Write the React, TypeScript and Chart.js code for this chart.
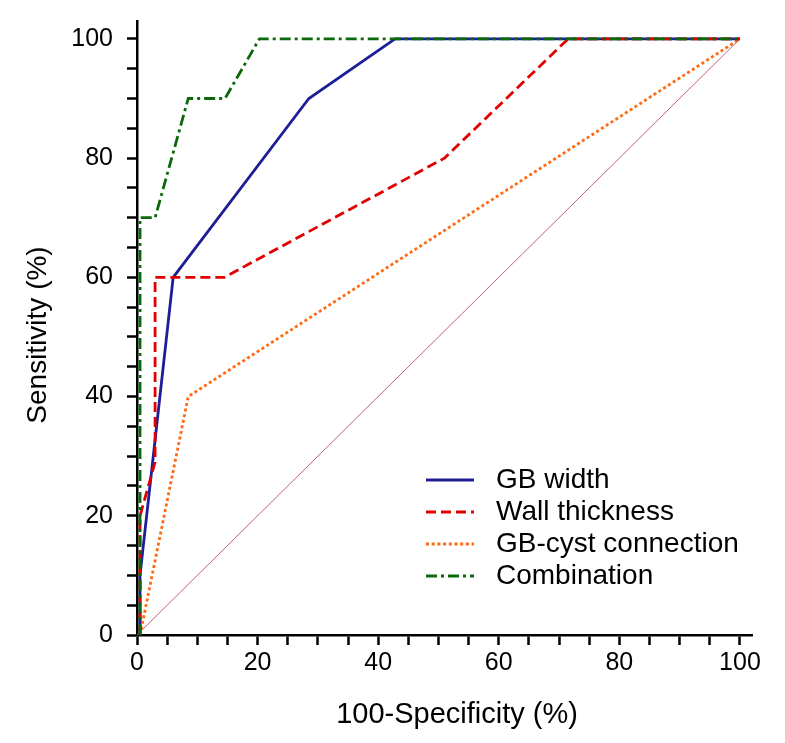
import React, { useEffect, useRef } from "react";
import Chart from "chart.js/auto";

// ---- data ----
const seriesNames = ["GB width", "Wall thickness", "GB-cyst connection", "Combination"];
const gbWidthX = [0.5, 0.5, 6, 28.5, 42.8, 100];
const gbWidthY = [0, 10, 60, 90, 100, 100];
const wallX = [0.5, 0.5, 3, 3, 14.5, 51, 71.5, 100];
const wallY = [0, 20, 29, 60, 60, 80, 100, 100];
const cystX = [0.5, 8.5, 100];
const cystY = [0, 40, 100];
const comboX = [0.5, 0.5, 3, 8.5, 14.6, 20.3, 100];
const comboY = [0, 70, 70, 90, 90, 100, 100];
const diagX = [0, 100];
const diagY = [0, 100];
const tickLabels = [0, 20, 40, 60, 80, 100];
const xTitle = "100-Specificity (%)";
const yTitle = "Sensitivity (%)";

const colors = ["#1e1e96", "#e00000", "#ff6a13", "#0b690b"];
const dashes: number[][] = [[], [10, 5], [3, 2.7], [11, 4, 3, 4]];

const pts = (xs: number[], ys: number[]) => xs.map((x, i) => ({ x, y: ys[i] }));

const FONT = "'Liberation Sans', Arial, Helvetica, sans-serif";

const overlayPlugin = {
  id: "overlay",
  afterDraw(chart: any) {
    const ctx = chart.ctx;
    const rowsY = [480, 512, 544, 576];
    ctx.save();
    seriesNames.forEach((name, i) => {
      const y = rowsY[i];
      ctx.beginPath();
      ctx.setLineDash(dashes[i]);
      ctx.lineWidth = 2.8;
      ctx.strokeStyle = colors[i];
      ctx.moveTo(426, y);
      ctx.lineTo(474, y);
      ctx.stroke();
      ctx.setLineDash([]);
      ctx.fillStyle = "#000";
      ctx.font = `28px ${FONT}`;
      ctx.textAlign = "left";
      ctx.textBaseline = "middle";
      ctx.fillText(name, 496, y);
    });
    // axis titles
    ctx.fillStyle = "#000";
    ctx.textAlign = "center";
    ctx.textBaseline = "middle";
    ctx.font = `29px ${FONT}`;
    ctx.fillText(xTitle, 457, 715);
    ctx.translate(38, 335);
    ctx.rotate(-Math.PI / 2);
    ctx.font = `28px ${FONT}`;
    ctx.fillText(yTitle, 0, 0);
    ctx.restore();
  },
};

export default function App() {
  const ref = useRef<HTMLCanvasElement>(null);
  useEffect(() => {
    if (!ref.current) return;
    const mk = (i: number, xs: number[], ys: number[], order: number) => ({
      label: seriesNames[i],
      data: pts(xs, ys),
      showLine: true,
      borderColor: colors[i],
      backgroundColor: colors[i],
      borderWidth: 2.8,
      borderDash: dashes[i],
      pointRadius: 0,
      fill: false,
      tension: 0,
      order,
      clip: false,
    });
    const zeroPad = (s: any) => {
      s.paddingTop = 0;
      s.paddingBottom = 0;
      s.paddingLeft = 0;
      s.paddingRight = 0;
    };
    const axisCommon = (max: number) => ({
      type: "linear",
      min: 0,
      max,
      grid: {
        display: true,
        drawOnChartArea: false,
        drawTicks: true,
        tickLength: 10,
        tickWidth: 2.5,
        tickColor: "#000",
        color: "#000",
      },
      border: { display: true, color: "#000", width: 2.5 },
      title: { display: false },
    });
    const chart = new Chart(ref.current, {
      type: "scatter",
      data: {
        datasets: [
          mk(3, comboX, comboY, 1),
          mk(1, wallX, wallY, 2),
          mk(0, gbWidthX, gbWidthY, 3),
          mk(2, cystX, cystY, 4),
          {
            label: "ref",
            data: pts(diagX, diagY),
            showLine: true,
            borderColor: "#c0607c",
            borderWidth: 1,
            pointRadius: 0,
            order: 5,
          } as any,
        ],
      },
      options: {
        animation: false,
        responsive: false,
        maintainAspectRatio: false,
        layout: { padding: { top: 21, right: 33, left: 0, bottom: 0 } },
        plugins: { legend: { display: false }, tooltip: { enabled: false } },
        scales: {
          x: {
            ...axisCommon(102),
            position: "bottom",
            afterFit: (s: any) => {
              s.height = 108;
              zeroPad(s);
            },
            ticks: {
              stepSize: 5,
              autoSkip: false,
              maxRotation: 0,
              includeBounds: false,
              padding: 3,
              color: "#000",
              font: { size: 25, family: FONT },
              callback: (v: any) => (tickLabels.includes(Number(v)) ? String(v) : ""),
            },
          },
          y: {
            ...axisCommon(103),
            position: "left",
            afterFit: (s: any) => {
              s.width = 137;
              zeroPad(s);
            },
            ticks: {
              stepSize: 5,
              autoSkip: false,
              includeBounds: false,
              padding: 14,
              color: "#000",
              font: { size: 25, family: FONT },
              callback: (v: any) => (tickLabels.includes(Number(v)) ? String(v) : ""),
            },
          },
        } as any,
      },
      plugins: [overlayPlugin],
    } as any);
    return () => chart.destroy();
  }, []);
  return (
    <div style={{ position: "absolute", left: 0, top: 0, width: 785, height: 743, background: "#fff" }}>
      <canvas ref={ref} width={785} height={743} style={{ width: 785, height: 743 }} />
    </div>
  );
}
